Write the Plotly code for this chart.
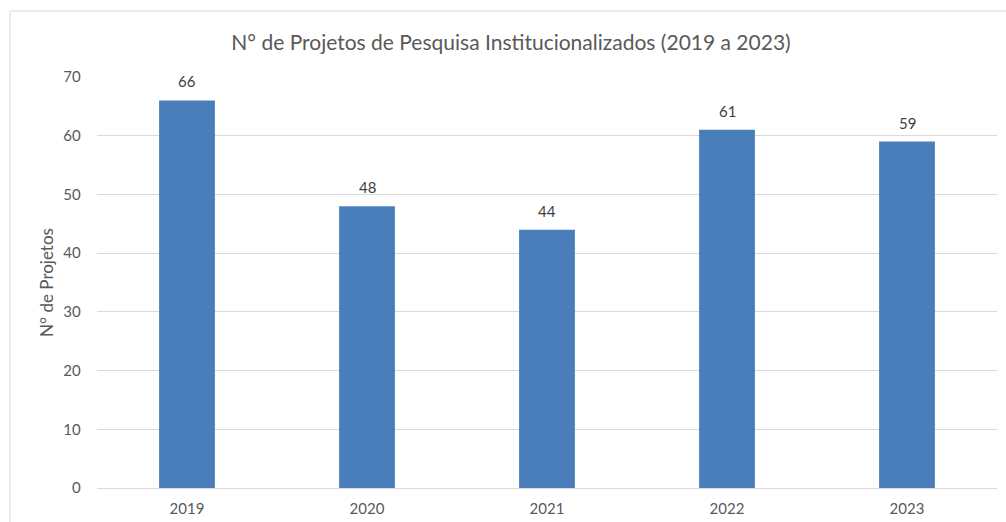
import plotly.graph_objects as go

years = ["2019", "2020", "2021", "2022", "2023"]
projetos = [66, 48, 44, 61, 59]
title_text = "N° de Projetos de Pesquisa Institucionalizados (2019 a 2023)"
y_title = "N° de Projetos"

W, H = 1006, 522
L, R, T, B = 97, 9, 77, 34
pw, ph = W - L - R, H - T - B

fig = go.Figure(go.Bar(
    x=years, y=projetos,
    marker=dict(color="#4a7ebb", line=dict(width=0)),
    hoverinfo="x+y",
))

for i, v in enumerate(projetos):
    fig.add_annotation(x=i, y=v, xref="x", yref="y", text=str(v), showarrow=False, yshift=19,
                       font=dict(size=15, color="#404040", family="Lato"))

fig.update_layout(
    width=W, height=H,
    margin=dict(l=L, r=R, t=T, b=B, autoexpand=False),
    paper_bgcolor="white", plot_bgcolor="white",
    font=dict(family="Lato", color="#595959"),
    bargap=0.69,
    showlegend=False,
    title=dict(text=title_text, x=(511 - L) / pw, xref="paper", y=1 - 43 / H, yanchor="middle",
               xanchor="center", font=dict(size=21, color="#595959", family="Lato")),
    xaxis=dict(type="category", range=[-0.5, len(years) - 0.5], showgrid=False, showline=False,
               automargin=False, ticks="", ticklabelstandoff=10,
               tickfont=dict(size=15, color="#595959"), zeroline=False),
    yaxis=dict(range=[0, 70], dtick=10, showgrid=True, gridcolor="#d9d9d9", gridwidth=1,
               zeroline=True, zerolinecolor="#d9d9d9", zerolinewidth=1, automargin=False,
               showline=False, ticks="", ticksuffix="    ",
               tickfont=dict(size=15, color="#595959"),
               title=dict(text=y_title, font=dict(size=17, color="#595959"), standoff=5)),
    shapes=[dict(type="rect", xref="paper", yref="paper",
                 x0=(10 - L) / pw, x1=(W + 5 - L) / pw,
                 y0=-(B + 5) / ph, y1=1 + (T - 11) / ph,
                 line=dict(color="#d9d9d9", width=1), fillcolor="rgba(0,0,0,0)", layer="below")],
)

fig.write_html("out.html", config={"displayModeBar": False},
               post_script="document.body.style.margin='0px';document.body.style.overflow='hidden';")
